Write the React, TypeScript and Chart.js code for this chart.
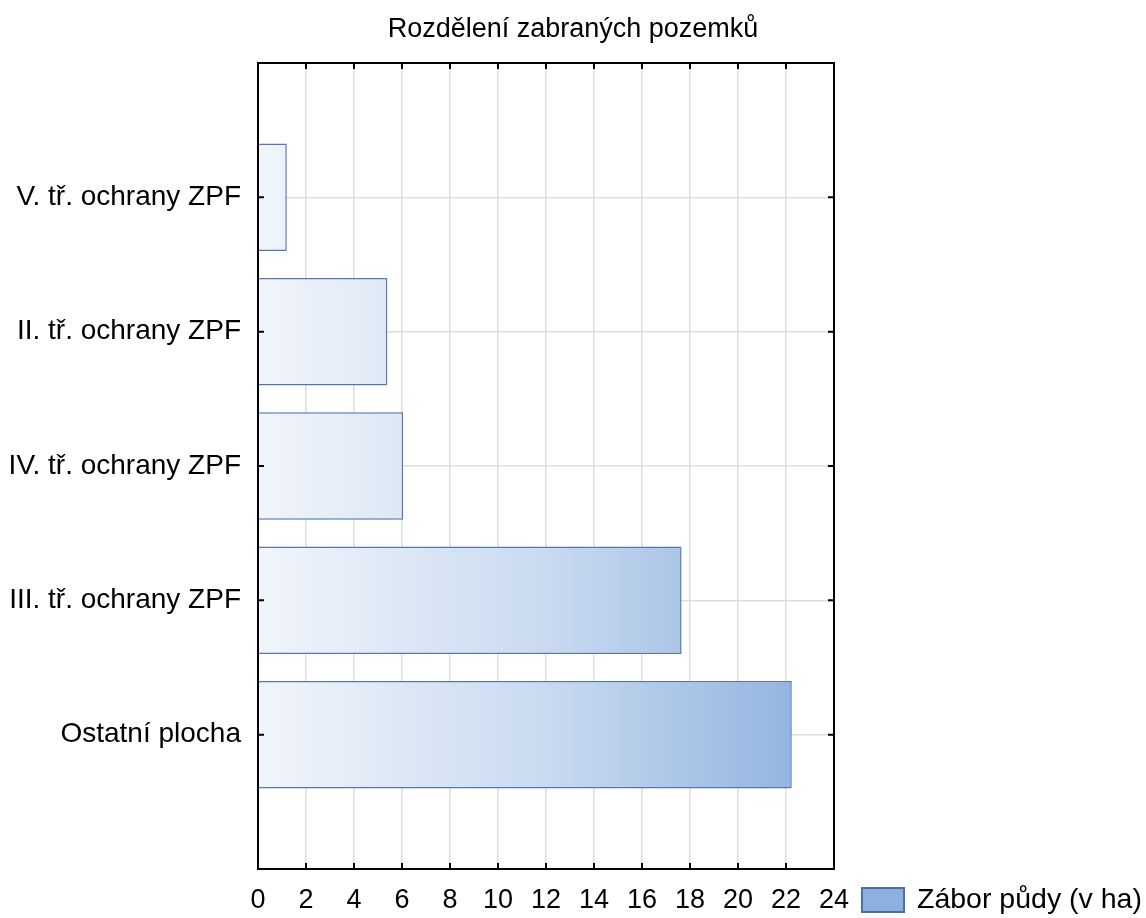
import React, { useEffect, useRef } from "react";
import { Chart, registerables } from "chart.js";

Chart.register(...registerables);

const title = "Rozdělení zabraných pozemků";
const seriesLabel = "Zábor půdy (v ha)";
const categories = [
  "V. tř. ochrany ZPF",
  "II. tř. ochrany ZPF",
  "IV. tř. ochrany ZPF",
  "III. tř. ochrany ZPF",
  "Ostatní plocha",
];
const values = [1.2, 5.39, 6.05, 17.65, 22.24];
const xMin = 0;
const xMax = 24;
const xStep = 2;

const FONT = "'Liberation Sans', Arial, sans-serif";

const framePlugin = {
  id: "frameAndExtras",
  afterDraw(chart: any) {
    const { ctx, chartArea, scales } = chart;
    const { left, right, top, bottom } = chartArea;
    ctx.save();
    // inward ticks
    ctx.strokeStyle = "#000";
    ctx.lineWidth = 2;
    const tl = 6;
    scales.x.ticks.forEach((t: any) => {
      const px = scales.x.getPixelForValue(t.value);
      ctx.beginPath();
      ctx.moveTo(px, bottom);
      ctx.lineTo(px, bottom - tl);
      ctx.moveTo(px, top);
      ctx.lineTo(px, top + tl);
      ctx.stroke();
    });
    categories.forEach((c, i) => {
      const py = scales.y.getPixelForValue(i + 1);
      ctx.beginPath();
      ctx.moveTo(left, py);
      ctx.lineTo(left + tl, py);
      ctx.moveTo(right, py);
      ctx.lineTo(right - tl, py);
      ctx.stroke();
    });
    // frame
    ctx.strokeRect(left, top, right - left, bottom - top);

    // title (centred over the whole canvas)
    ctx.fillStyle = "#000";
    ctx.font = `27px ${FONT}`;
    ctx.textAlign = "center";
    ctx.textBaseline = "alphabetic";
    ctx.fillText(title, chart.width / 2, 37);

    // legend
    const bx = right + 28;
    const by = bottom + 19;
    ctx.fillStyle = "#8db0de";
    ctx.fillRect(bx, by, 42, 24);
    ctx.strokeStyle = "#4d6fa3";
    ctx.lineWidth = 2;
    ctx.strokeRect(bx, by, 42, 24);
    ctx.fillStyle = "#000";
    ctx.font = `28.5px ${FONT}`;
    ctx.textAlign = "left";
    ctx.fillText(chart.data.datasets[0].label, bx + 55, by + 20);
    ctx.restore();
  },
};

export default function App() {
  const ref = useRef<HTMLCanvasElement | null>(null);
  useEffect(() => {
    if (!ref.current) return;
    const labels = ["", ...categories, ""];
    const data = [null, ...values, null];
    const chart = new Chart(ref.current, {
      type: "bar",
      data: {
        labels,
        datasets: [
          {
            label: seriesLabel,
            data,
            backgroundColor: (c: any) => {
              const ch = c.chart;
              const ca = ch.chartArea;
              if (!ca) return "#c0d3ee";
              const g = ch.ctx.createLinearGradient(ca.left, 0, ca.right, 0);
              g.addColorStop(0, "#f1f5fb");
              g.addColorStop(0.5, "#c9daf0");
              g.addColorStop(1, "#8bafde");
              return g;
            },
            borderColor: "#5577ae",
            borderWidth: 1.5,
            barPercentage: 0.8,
            categoryPercentage: 1,
          },
        ],
      },
      options: {
        indexAxis: "y",
        responsive: false,
        animation: false,
        devicePixelRatio: 1,
        layout: { padding: { top: 63, right: 312, bottom: 0, left: 0 } },
        plugins: {
          legend: { display: false },
          title: { display: false },
          tooltip: { enabled: false },
        },
        scales: {
          x: {
            type: "linear",
            min: xMin,
            max: xMax,
            position: "bottom",
            ticks: {
              stepSize: xStep,
              color: "#000",
              font: { family: FONT, size: 27 },
              padding: 15,
              maxRotation: 0,
              autoSkip: false,
            },
            grid: { color: "#dedede", lineWidth: 1.5, drawTicks: false },
            border: { display: false },
            afterFit: (s: any) => {
              s.height = 49;
            },
          },
          y: {
            type: "category",
            offset: false,
            ticks: {
              color: "#000",
              font: { family: FONT, size: 28 },
              padding: 17,
              autoSkip: false,
            },
            grid: { color: "#dedede", lineWidth: 1.5, drawTicks: false, offset: false },
            border: { display: false },
            afterFit: (s: any) => {
              s.width = 258;
            },
          },
        },
      },
      plugins: [framePlugin],
    } as any);
    return () => chart.destroy();
  }, []);
  return (
    <div style={{ position: "absolute", left: 0, top: 0, width: 1146, height: 918, background: "#fff" }}>
      <canvas ref={ref} width={1146} height={918} />
    </div>
  );
}
